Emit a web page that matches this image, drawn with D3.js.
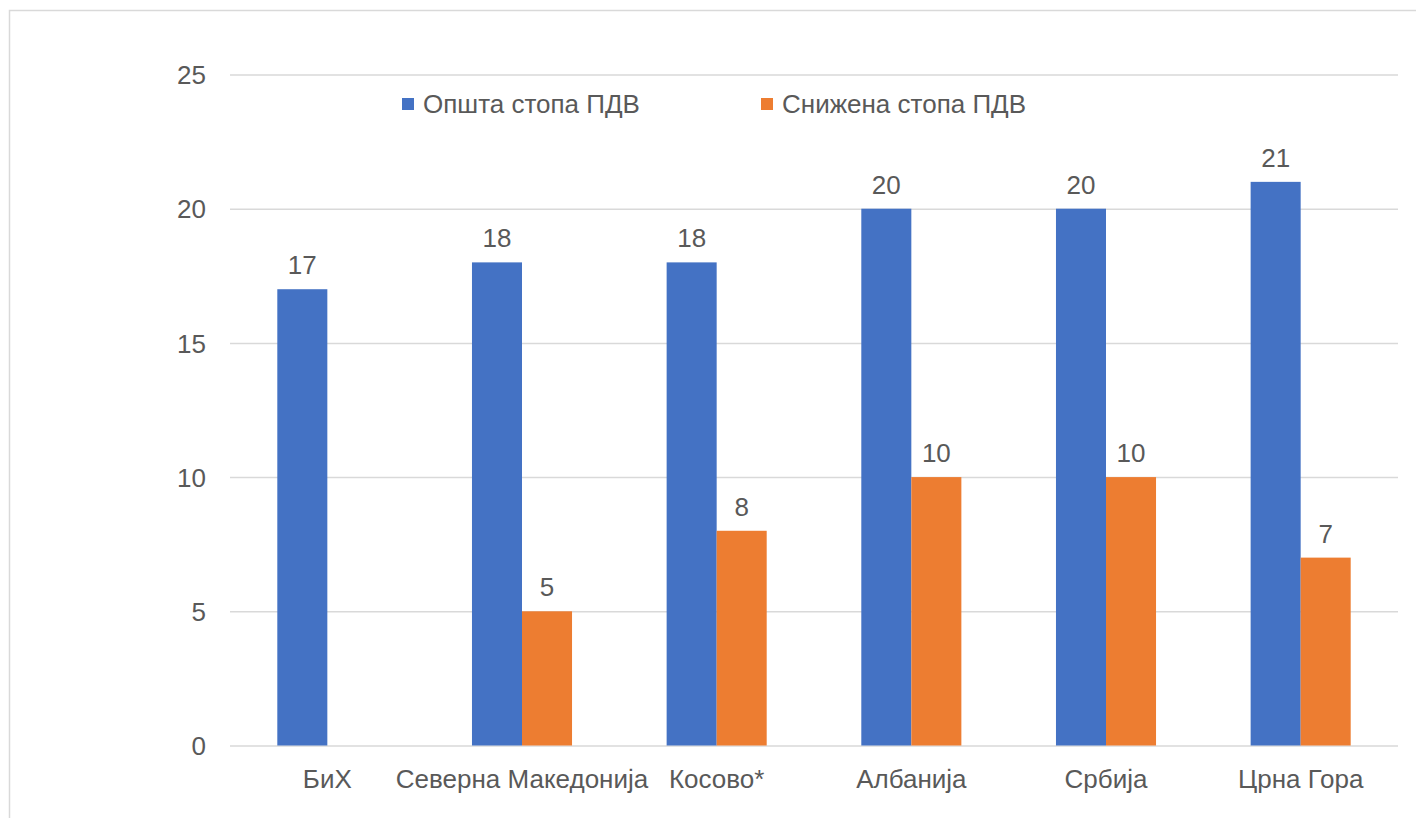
<!DOCTYPE html>
<html><head><meta charset="utf-8">
<script src="https://cdn.jsdelivr.net/npm/d3@7"></script>
<style>body{margin:0;background:#fff}svg{display:block}text{font-family:"Liberation Sans",Arial,sans-serif;fill:#595959}</style>
</head><body><svg id="c" width="1416" height="818"></svg>
<script>
const categories = ["БиХ","Северна Македонија","Косово*","Албанија","Србија","Црна Гора"];
const seriesNames = ["Општа стопа ПДВ","Снижена стопа ПДВ"];
const generalRate = [17,18,18,20,20,21];
const reducedRate = [null,5,8,10,10,7];
const yTicks = [0,5,10,15,20,25];
const colors = ["#4472c4","#ed7d31"];
const FS = 26;

const svg = d3.select("#c");
svg.append("rect").attr("x",9.5).attr("y",10.5).attr("width",1500).attr("height",900)
  .attr("fill","none").attr("stroke","#d9d9d9").attr("stroke-width",1.5);

const L=230,R=1398,T=74.5,B=745.5;
const y = d3.scaleLinear().domain([0,25]).range([B,T]);
const x0 = d3.scaleBand().domain(categories).range([L,R]).paddingInner(0.486).paddingOuter(0.243);
const x1 = d3.scaleBand().domain([0,1]).range([0,x0.bandwidth()]);

const yAxis = d3.axisLeft(y).tickValues(yTicks).tickSize(-(R-L)).tickPadding(24);
const gy = svg.append("g").attr("transform",`translate(${L},0)`).call(yAxis);
gy.select(".domain").remove();
gy.selectAll(".tick line").attr("stroke","#d9d9d9").attr("stroke-width",1.5);
gy.selectAll(".tick text").attr("font-size",FS).attr("fill","#595959").attr("dy","0.35em");

const data = categories.map((c,i)=>({c, vals:[generalRate[i],reducedRate[i]]}));
const g = svg.append("g");
data.forEach(d=>{
  d.vals.forEach((v,j)=>{
    if(v==null) return;
    const bx = x0(d.c)+x1(j);
    g.append("rect").attr("x",bx).attr("y",y(v)).attr("width",x1.bandwidth()).attr("height",y(0)-y(v)).attr("fill",colors[j]);
    g.append("text").attr("x",bx+x1.bandwidth()/2).attr("y",y(v)-15).attr("text-anchor","middle").attr("font-size",FS).text(v);
  });
});

const xAxis = d3.axisBottom(x0).tickSize(0);
const gx = svg.append("g").attr("transform",`translate(0,${B})`).call(xAxis);
gx.select(".domain").remove();
gx.selectAll(".tick text").attr("font-size",FS).attr("fill","#595959").attr("dy",null).attr("y",42.5);

const leg = svg.append("g");
const legX=[402,761];
seriesNames.forEach((n,i)=>{
  leg.append("rect").attr("x",legX[i]).attr("y",98).attr("width",12).attr("height",12).attr("fill",colors[i]);
  leg.append("text").attr("x",legX[i]+21).attr("y",104).attr("dy","0.35em").attr("font-size",FS).text(n);
});
</script></body></html>
